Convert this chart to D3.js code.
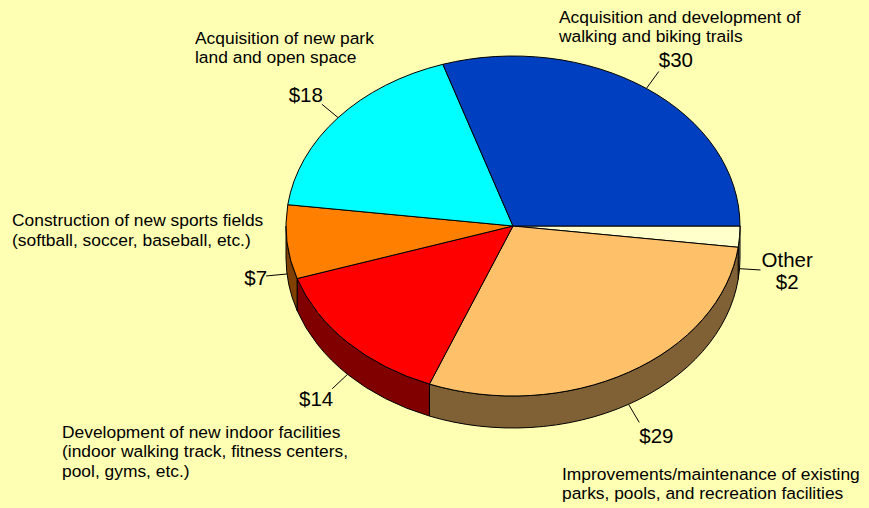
<!DOCTYPE html>
<html>
<head>
<meta charset="utf-8">
<script src="https://cdn.jsdelivr.net/npm/d3@7"></script>
<style>
  body { margin: 0; background: #ffffb3; }
  text { font-family: "Liberation Sans", Arial, sans-serif; fill: #000; }
</style>
</head>
<body>
<div id="chart"></div>
<script>
// slices in drawing order, clockwise from 3 o'clock
const names = ["Other", "Improvements", "Indoor facilities", "Sports fields", "Park land", "Trails"];
const values = [2, 29, 14, 7, 18, 30];
const descriptions = [
  [],
  ["Improvements/maintenance of existing", "parks, pools, and recreation facilities"],
  ["Development of new indoor facilities", "(indoor walking track, fitness centers,", "pool, gyms, etc.)"],
  ["Construction of new sports fields", "(softball, soccer, baseball, etc.)"],
  ["Acquisition of new park", "land and open space"],
  ["Acquisition and development of", "walking and biking trails"]
];

const colors = ["#ffffcc", "#ffc06a", "#ff0000", "#ff8000", "#00ffff", "#0040c0"];
// where each description block sits: x, first baseline, line height
const descLayout = [null, [562, 480, 18.8], [62, 437.5, 19.7], [12, 225.7, 20], [195, 43.8, 19], [559, 23, 19]];

const width = 869, height = 508;
const cx = 513, cy = 226, rx = 227, ry = 170, depth = 32;
const descSize = 17.4, valueSize = 20.5;

const svg = d3.select("#chart").append("svg")
  .attr("width", width)
  .attr("height", height)
  .style("display", "block")
  .style("background", "#ffffb3");

const pie = d3.pie().sort(null)
  .startAngle(Math.PI / 2)
  .endAngle(Math.PI / 2 + 2 * Math.PI);
const arcs = pie(values);

function pt(a, dy = 0, ext = 0) {
  return [cx + (rx + ext) * Math.sin(a), cy - (ry + ext) * Math.cos(a) + dy];
}

function shade(c) {
  const r = d3.rgb(c);
  return d3.rgb(r.r * 0.5, r.g * 0.5, r.b * 0.5).formatHex();
}

// side walls (front half only)
const sides = svg.append("g");
arcs.forEach((d, i) => {
  const s0 = Math.max(d.startAngle, Math.PI / 2);
  const s1 = Math.min(d.endAngle, 3 * Math.PI / 2);
  if (s1 <= s0) return;
  const t0 = pt(s0), t1 = pt(s1), b0 = pt(s0, depth), b1 = pt(s1, depth);
  sides.append("path")
    .attr("d", `M${t0}A${rx},${ry} 0 0 1 ${t1}L${b1}A${rx},${ry} 0 0 0 ${b0}Z`)
    .attr("fill", shade(colors[i]))
    .attr("stroke", "#000")
    .attr("stroke-width", 1)
    .attr("stroke-linejoin", "round");
});

// top faces
const tops = svg.append("g");
arcs.forEach((d, i) => {
  const p0 = pt(d.startAngle), p1 = pt(d.endAngle);
  const large = d.endAngle - d.startAngle > Math.PI ? 1 : 0;
  tops.append("path")
    .attr("d", `M${cx},${cy}L${p0}A${rx},${ry} 0 ${large} 1 ${p1}Z`)
    .attr("fill", colors[i])
    .attr("stroke", "#000")
    .attr("stroke-width", 1)
    .attr("stroke-linejoin", "round");
});

// value labels with leader lines
const labels = svg.append("g");
arcs.forEach((d, i) => {
  const mid = (d.startAngle + d.endAngle) / 2;
  const front = Math.cos(mid) < 0;
  const start = pt(mid, front ? depth : 0);
  const end = pt(mid, front ? depth : 0, 21);
  labels.append("line")
    .attr("x1", start[0]).attr("y1", start[1])
    .attr("x2", end[0]).attr("y2", end[1])
    .attr("stroke", "#000").attr("stroke-width", 1);

  const right = Math.sin(mid) > 0;
  const yc = end[1] - Math.cos(mid) * 15;
  const lines = descriptions[i].length ? ["$" + d.data] : [names[i], "$" + d.data];
  const lh = 22;
  const t = labels.append("text")
    .style("font-size", valueSize + "px");
  lines.forEach((s, k) => {
    t.append("tspan")
      .attr("x", 0)
      .attr("y", yc + (k - (lines.length - 1) / 2) * lh + 0.36 * valueSize)
      .text(s);
  });
  if (lines.length === 1) {
    t.attr("text-anchor", right ? "start" : "end");
    t.selectAll("tspan").attr("x", end[0] + (right ? 0 : 1));
  } else {
    // centre the lines within the block
    const w = t.node().getBBox().width;
    const xm = right ? end[0] + 1 + w / 2 : end[0] - 1 - w / 2;
    t.attr("text-anchor", "middle");
    t.selectAll("tspan").attr("x", xm);
  }
});

// category descriptions
const desc = svg.append("g");
descriptions.forEach((lines, i) => {
  if (!lines.length) return;
  const [x, y0, lh] = descLayout[i];
  const t = desc.append("text").style("font-size", descSize + "px");
  lines.forEach((s, k) => {
    t.append("tspan").attr("x", x).attr("y", y0 + k * lh).text(s);
  });
});
</script>
</body>
</html>
